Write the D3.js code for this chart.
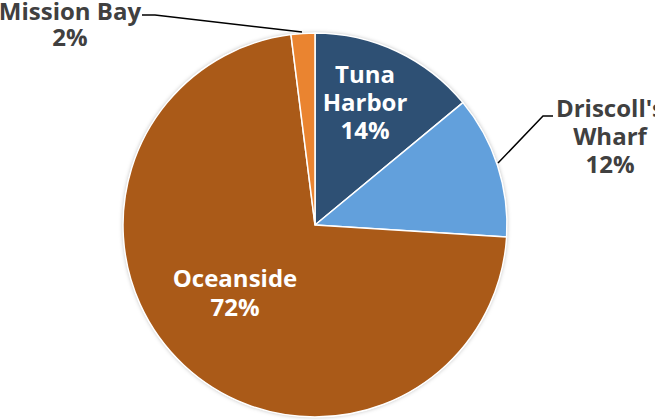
<!DOCTYPE html>
<html>
<head>
<meta charset="utf-8">
<script src="https://cdn.jsdelivr.net/npm/d3@7"></script>
<style>
  html, body { margin: 0; padding: 0; background: #fff; }
  svg { display: block; }
</style>
</head>
<body>
<div id="chart"></div>
<script>
// datos del gráfico
const categorias = ["Tuna Harbor", "Driscoll's Wharf", "Oceanside", "Mission Bay"];
const valores = [14, 12, 72, 2];
const lineasEtiqueta = [["Tuna", "Harbor"], ["Driscoll's", "Wharf"], ["Oceanside"], ["Mission Bay"]];
const colores = ["#2e5074", "#62a0dc", "#aa5a18", "#ea8430"];

const width = 655, height = 420;
const cx = 315, cy = 225, radio = 192;

// posicion de etiquetas (x centro, baseline primera linea, alto de linea, dentro?)
const etiquetaPos = [
    { x: 365, y: 83, lh: 28, dentro: true },
    { x: 610, y: 117, lh: 28, dentro: false },
    { x: 235, y: 287, lh: 29, dentro: true },
    { x: 70, y: 20, lh: 26, dentro: false }
];
// lineas guia de las etiquetas externas
const guias = {
    1: [[498, 163], [543, 116], [553, 116]],
    3: [[142, 15], [155, 15], [302, 32]]
};

const svg = d3.select("#chart").append("svg")
    .attr("width", width)
    .attr("height", height);

const defs = svg.append("defs");
const filtro = defs.append("filter").attr("id", "sombra")
    .attr("x", "-10%").attr("y", "-10%").attr("width", "120%").attr("height", "120%");
filtro.append("feDropShadow")
    .attr("dx", 0).attr("dy", 0)
    .attr("stdDeviation", 2)
    .attr("flood-color", "#000")
    .attr("flood-opacity", 0.3);

const pie = d3.pie().sort(null).value(d => d);
const arco = d3.arc().innerRadius(0).outerRadius(radio);
const arcos = pie(valores);

const g = svg.append("g").attr("transform", `translate(${cx},${cy})`);

g.append("circle")
    .attr("r", radio)
    .attr("fill", "#fff")
    .attr("filter", "url(#sombra)");

g.selectAll("path")
    .data(arcos)
    .join("path")
    .attr("d", arco)
    .attr("fill", (d, i) => colores[i])
    .attr("stroke", "#fff")
    .attr("stroke-width", 1.5)
    .attr("stroke-linejoin", "round");

// lineas guia
Object.entries(guias).forEach(([i, pts]) => {
    svg.append("path")
        .attr("d", d3.line()(pts))
        .attr("fill", "none")
        .attr("stroke", "#000")
        .attr("stroke-width", 1.5);
});

// etiquetas
arcos.forEach((d, i) => {
    const p = etiquetaPos[i];
    const lineas = lineasEtiqueta[i].concat([valores[i] + "%"]);
    const t = svg.append("text")
        .attr("text-anchor", "middle")
        .attr("font-family", "'Open Sans', sans-serif")
        .attr("font-weight", 700)
        .attr("font-size", "24px")
        .attr("fill", p.dentro ? "#fff" : "#404040");
    lineas.forEach((l, k) => {
        t.append("tspan")
            .attr("x", p.x)
            .attr("y", p.y + k * p.lh)
            .text(l);
    });
});
</script>
</body>
</html>
